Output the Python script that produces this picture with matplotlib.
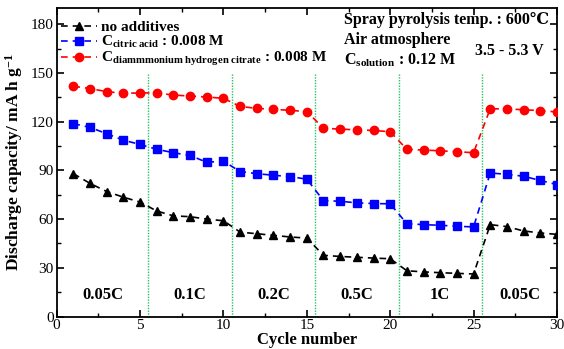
import matplotlib
matplotlib.use("Agg")
import matplotlib.pyplot as plt
import numpy as np

cycles = list(range(1, 31))
no_additives = [88, 82, 77, 73.5, 70.5, 65, 62, 61.5, 60, 59,
                52, 51, 50, 49, 48.3, 37.7, 37, 36.5, 36, 35.6,
                28.2, 27.5, 27, 26.6, 26.2, 56.6, 55.4, 52.7, 51.5, 50.6]
citric_acid = [118.8, 116.5, 112.6, 108.6, 106, 103, 100.9, 99.2, 95, 95.7,
               89.3, 88, 87, 86.2, 84.6, 71.4, 71, 70, 69.6, 69.4,
               57.2, 56.6, 56.2, 55.6, 55.2, 88.4, 87.6, 86.4, 83.8, 81.3]
dahc = [141.8, 140.4, 138.5, 137.5, 137.7, 137.7, 136.4, 135.8, 135.2, 134.4,
        129.4, 128.2, 127.6, 127, 126.2, 116, 115.4, 115, 114.6, 113.8,
        103, 102.5, 102.1, 101.5, 100.9, 128, 127.8, 127.4, 126.8, 126]
boundaries = [5.5, 10.5, 15.5, 20.5, 25.5]
rate_labels = ["0.05C", "0.1C", "0.2C", "0.5C", "1C", "0.05C"]
rate_x = [2.75, 8, 13, 18, 23, 27.75]

plt.rcParams['font.family'] = ['Liberation Serif', 'DejaVu Serif']
plt.rcParams['mathtext.fontset'] = 'custom'
plt.rcParams['mathtext.rm'] = 'Liberation Serif'
plt.rcParams['mathtext.bf'] = 'Liberation Serif:bold'
plt.rcParams['mathtext.it'] = 'Liberation Serif:italic'

fig = plt.figure(figsize=(5.64, 3.49), dpi=100)
ax = fig.add_axes([0.1005, 0.093, 0.887, 0.884])

for b in boundaries:
    ax.plot([b, b], [0, 150], linestyle=(0, (1, 1)), color='#22c55e', lw=1.0, zorder=1)

ax.plot(cycles, no_additives, linestyle=(0, (4, 3)), color='black', lw=1.2,
        marker='^', markersize=6, label='no additives', zorder=3)
ax.plot(cycles, citric_acid, linestyle=(0, (4, 3)), color='#0000ff', lw=1.2,
        marker='s', markersize=6, label=r'C$_{\mathbf{citric\ acid}}$ : 0.008 M', zorder=3)
ax.plot(cycles, dahc, linestyle=(0, (4, 3)), color='#ff0000', lw=1.2,
        marker='o', markersize=6,
        label=r'C$_{\mathbf{diammmonium\ hydrogen\ citrate}}$ : 0.008 M', zorder=3)

for x, t in zip(rate_x, rate_labels):
    ax.text(x, 13, t, ha='center', va='center', fontsize=12, fontweight='bold')

ax.text(0.575, 0.96, 'Spray pyrolysis temp. : 600\u2103', transform=ax.transAxes,
        fontsize=11.5, fontweight='bold', ha='left', va='center')
ax.text(0.575, 0.895, 'Air atmosphere', transform=ax.transAxes,
        fontsize=11.5, fontweight='bold', ha='left', va='center')
ax.text(0.575, 0.83, r'C$_{\mathbf{solution}}$ : 0.12 M', transform=ax.transAxes,
        fontsize=11.5, fontweight='bold', ha='left', va='center')
ax.text(0.973, 0.862, '3.5 - 5.3 V', transform=ax.transAxes,
        fontsize=11.5, fontweight='bold', ha='right', va='center')

leg = ax.legend(loc='upper left', bbox_to_anchor=(-0.015, 1.0), frameon=False,
                prop={'weight': 'bold', 'size': 11}, handlelength=2.3,
                handletextpad=0.3, labelspacing=0.0, borderpad=0.3)

ax.set_xlim(0, 30)
ax.set_ylim(0, 190)
ax.set_xticks([0, 5, 10, 15, 20, 25, 30])
ax.set_xticks(np.arange(0, 30.1, 2.5), minor=True)
ax.set_yticks([0, 30, 60, 90, 120, 150, 180])
ax.set_yticks(np.arange(0, 190, 15), minor=True)
ax.tick_params(which='both', direction='in', top=True, right=True, labelsize=11, pad=2)
ax.tick_params(which='major', length=5, width=1.2)
ax.tick_params(which='minor', length=3, width=1.0)
for s in ax.spines.values():
    s.set_linewidth(1.3)

ax.set_xlabel('Cycle number', fontsize=12, fontweight='bold', labelpad=0)
ax.set_ylabel(r'Discharge capacity/ mA h g$^{\mathbf{-1}}$', fontsize=12.5,
              fontweight='bold', labelpad=4)

fig.savefig('out.png', dpi=100)
